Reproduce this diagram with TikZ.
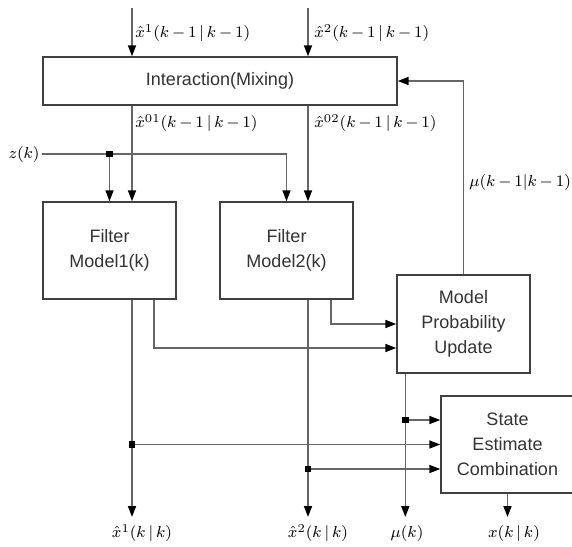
\documentclass[tikz,border=0pt]{standalone}
\usepackage{amsmath}
\usepackage{fontspec}
\setmainfont{Liberation Sans}
\usetikzlibrary{arrows.meta,positioning,calc}
\medmuskip=3mu\relax

\begin{document}
\begin{tikzpicture}[
  x=0.5pt,y=-0.5pt,
  >={Triangle[length=5.5pt,width=4pt,color=black]},
  font=\fontsize{9}{12.4}\selectfont,
  block/.style={draw=black!75,line width=0.7pt,text=black!80,align=center,inner sep=0pt,
    minimum width=66.5pt,minimum height=48.5pt},
  link/.style={draw=black!60,line width=0.8pt},
  sig/.style={link,->},
  jdot/.style={rectangle,fill=black,minimum size=3.2pt,inner sep=0pt},
  lbl/.style={inner sep=1pt,font=\fontsize{8}{10}\selectfont},
]

\useasboundingbox (0,0) rectangle (572,546);
\clip (0,0) rectangle (572,546);
\fill[white] (0,0) rectangle (572,546);

% ---------- blocks ----------
\node[block,minimum width=177pt,minimum height=24pt] (mix) at (220,81) {Interaction(Mixing)};
\node[block] (f1)  at (109.5,250.5) {Filter\\Model1(k)};
\node[block] (f2)  at (286.5,250.5) {Filter\\Model2(k)};
\node[block,minimum height=49pt] (mpu) at (463.5,324) {Model\\Probability\\Update};
\node[block] (sec) at (507.5,444.5) {State\\Estimate\\Combination};

% ---------- inputs of the mixing ----------
\coordinate (in1) at (132,8);
\coordinate (in2) at (308,8);
\draw[sig] (in1) -- (in1 |- mix.north);
\draw[sig] (in2) -- (in2 |- mix.north);
\node[lbl,anchor=west] (lin1) at (133,33) {$\hat{x}^1(k-1\,|\,k-1)$};
\node[lbl,anchor=west] (lin2) at (312,33) {$\hat{x}^2(k-1\,|\,k-1)$};

% ---------- mixed estimates to the filters ----------
\draw[sig] (in1 |- mix.south) -- (in1 |- f1.north);
\draw[sig] (in2 |- mix.south) -- (in2 |- f2.north);
\node[lbl,anchor=west] (lmix1) at (133,123) {$\hat{x}^{01}(k-1\,|\,k-1)$};
\node[lbl,anchor=west] (lmix2) at (312,123) {$\hat{x}^{02}(k-1\,|\,k-1)$};

% ---------- measurement ----------
\node[lbl,anchor=east] (zk) at (42,154) {$z(k)$};
\coordinate (zj) at (f1.north |- zk.east);
\draw[sig] (zk.east) -| (f2.north);
\draw[sig] (zj) -- (f1.north);
\node[jdot] at (zj) {};

% ---------- likelihoods to model probability update ----------
\coordinate (f1s) at ($(f1.south)+(44.5,0)$);
\coordinate (f2s) at ($(f2.south)+(44.5,0)$);
\coordinate (mpuin) at ($(mpu.west)+(0,24)$);
\draw[sig] (f1s) |- (mpuin);
\draw[sig] (f2s) |- (mpu.west);

% ---------- feedback of model probabilities ----------
\draw[sig] (mpu.north) |- (mix.east);
\node[lbl,anchor=west] (lmu) at (467,182) {$\mu(k-1|k-1)$};

% ---------- outputs ----------
\coordinate (o1) at (132,517);
\coordinate (o2) at (308,517);
\coordinate (mpuo) at ($(mpu.south west)+(9,0)$);
\draw[sig] (in1 |- f1.south) -- (o1);
\draw[sig] (in2 |- f2.south) -- (o2);
\draw[sig] (mpuo) -- (mpuo |- o1);
\draw[sig] (sec.south) -- (sec.south |- o1);

\coordinate (j1) at (in1 |- sec.west);
\coordinate (j2) at (308,469);
\coordinate (j3) at (mpuo |- 0,420);
\draw[sig] (j1) -- (sec.west);
\draw[sig] (j2) -- (j2 -| sec.west);
\draw[sig] (j3) -- (j3 -| sec.west);
\node[jdot] at (j1) {};
\node[jdot] at (j2) {};
\node[jdot] at (j3) {};

\node[lbl] (lo1) at (142,533) {$\hat{x}^1(k\,|\,k)$};
\node[lbl] (lo2) at (318,533) {$\hat{x}^2(k\,|\,k)$};
\node[lbl] (lo3) at (407,533) {$\mu(k)$};
\node[lbl] (lo4) at (514,533) {$x(k\,|\,k)$};

\end{tikzpicture}
\end{document}
